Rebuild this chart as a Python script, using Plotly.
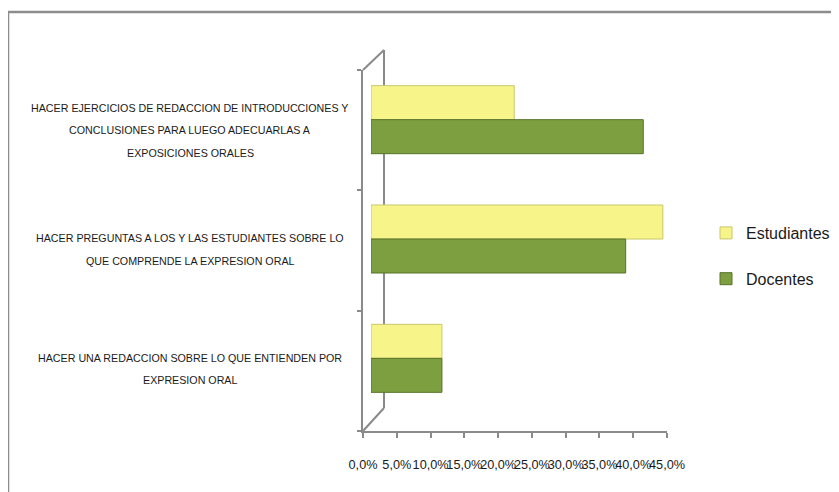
import plotly.graph_objects as go

# ---- data ----
categories = [
    "HACER EJERCICIOS DE REDACCION DE INTRODUCCIONES Y<br>CONCLUSIONES PARA LUEGO ADECUARLAS A<br>EXPOSICIONES ORALES",
    "HACER PREGUNTAS A LOS Y LAS ESTUDIANTES SOBRE LO<br>QUE COMPRENDE LA EXPRESION ORAL",
    "HACER UNA REDACCION SOBRE LO QUE ENTIENDEN POR<br>EXPRESION ORAL",
]
estudiantes = [0.212, 0.432, 0.105]
docentes = [0.403, 0.377, 0.105]
tick_values = [0.0, 0.05, 0.10, 0.15, 0.20, 0.25, 0.30, 0.35, 0.40, 0.45]

# ---- geometry (page pixels; the page body adds an 8px offset) ----
OFF = 8
W, H = 839 - OFF, 492 - OFF
L, R, T, B = 363, 675, 50, 431          # paper area in page pixels
PW, PH = R - L, B - T

def px(x):
    return (x - L) / PW

def py(y):
    return (B - y) / PH

FONT = "Liberation Sans, Arial, sans-serif"
FRAME = "#8a8a8a"

fig = go.Figure()
fig.add_trace(go.Bar(
    y=categories, x=estudiantes, name="Estudiantes", orientation="h",
    marker=dict(color="#F7F58A", line=dict(color="#C9C76A", width=1)),
    legendgroup="e",
))
fig.add_trace(go.Bar(
    y=categories, x=docentes, name="Docentes", orientation="h",
    marker=dict(color="#7E9F3F", line=dict(color="#56722A", width=1)),
    legendgroup="d",
))
# frame axes (front plane)
fig.add_trace(go.Scatter(x=[None], y=[None], xaxis="x2", yaxis="y2",
                         showlegend=False, hoverinfo="skip"))

fig.update_layout(
    width=W, height=H,
    margin=dict(l=L - OFF, r=839 - R, t=T - OFF, b=492 - B, autoexpand=False),
    paper_bgcolor="white", plot_bgcolor="rgba(0,0,0,0)",
    barmode="group", bargap=0.43, bargroupgap=0,
    separators=",.",
    font=dict(family=FONT, color="#1a1a1a"),
    xaxis=dict(domain=[px(371), 1], range=[0, 0.45], visible=False),
    yaxis=dict(domain=[py(418), py(60)], type="category",
               autorange="reversed", visible=False),
    xaxis2=dict(domain=[0, px(667)], range=[0, 0.45], anchor="y2",
                tickvals=tick_values, tickformat=".1%", tickangle=0,
                showline=True, linecolor=FRAME, linewidth=2,
                ticks="outside", ticklen=5, tickcolor=FRAME, tickwidth=2,
                showgrid=False, zeroline=False, automargin=False,
                tickfont=dict(family=FONT, size=12.7, color="#1a1a1a"),
                ticklabelstandoff=16),
    yaxis2=dict(domain=[0, py(70)], range=[-0.5, 2.5], anchor="x2",
                tickvals=[-0.5, 0.5, 1.5, 2.5], showticklabels=False,
                showline=True, linecolor=FRAME, linewidth=2,
                ticks="outside", ticklen=4, tickcolor=FRAME, tickwidth=2,
                showgrid=False, zeroline=False, automargin=False),
    legend=dict(x=px(706), y=py(256), xanchor="left", yanchor="middle",
                traceorder="grouped", tracegroupgap=22,
                font=dict(family=FONT, size=16, color="#1a1a1a"),
                bgcolor="rgba(0,0,0,0)", itemwidth=30),
    showlegend=True,
)

# back wall / floor edges of the 3-D frame
shapes = [
    dict(type="line", xref="paper", yref="paper", x0=px(384), y0=py(50),
         x1=px(384), y1=py(408), line=dict(color=FRAME, width=2), layer="below"),
    dict(type="line", xref="paper", yref="paper", x0=px(363), y0=py(70),
         x1=px(384), y1=py(50), line=dict(color=FRAME, width=2), layer="below"),
    dict(type="line", xref="paper", yref="paper", x0=px(384), y0=py(408),
         x1=px(363), y1=py(431), line=dict(color=FRAME, width=2), layer="below"),
    # outer chart border
    dict(type="line", xref="paper", yref="paper", x0=px(8), y0=py(12),
         x1=px(845), y1=py(12), line=dict(color="#8c8c8c", width=2.5)),
    dict(type="line", xref="paper", yref="paper", x0=px(8), y0=py(12),
         x1=px(8), y1=py(500), line=dict(color="#8c8c8c", width=2.5)),
]
fig.update_layout(shapes=shapes)

# category labels, centred, one annotation per line
LINE = 22.5
ann = []
for cat in categories:
    lines = cat.split("<br>")
    n = len(lines)
    for i, ln in enumerate(lines):
        ann.append(dict(
            xref="paper", yref="y", x=px(190), y=cat, text=ln,
            showarrow=False, xanchor="center", yanchor="middle",
            yshift=-10.5 - (i - (n - 1) / 2) * LINE,
            font=dict(family=FONT, size=10.7, color="#1a1a1a"),
        ))
fig.update_layout(annotations=ann)

fig.write_html("out.html")
